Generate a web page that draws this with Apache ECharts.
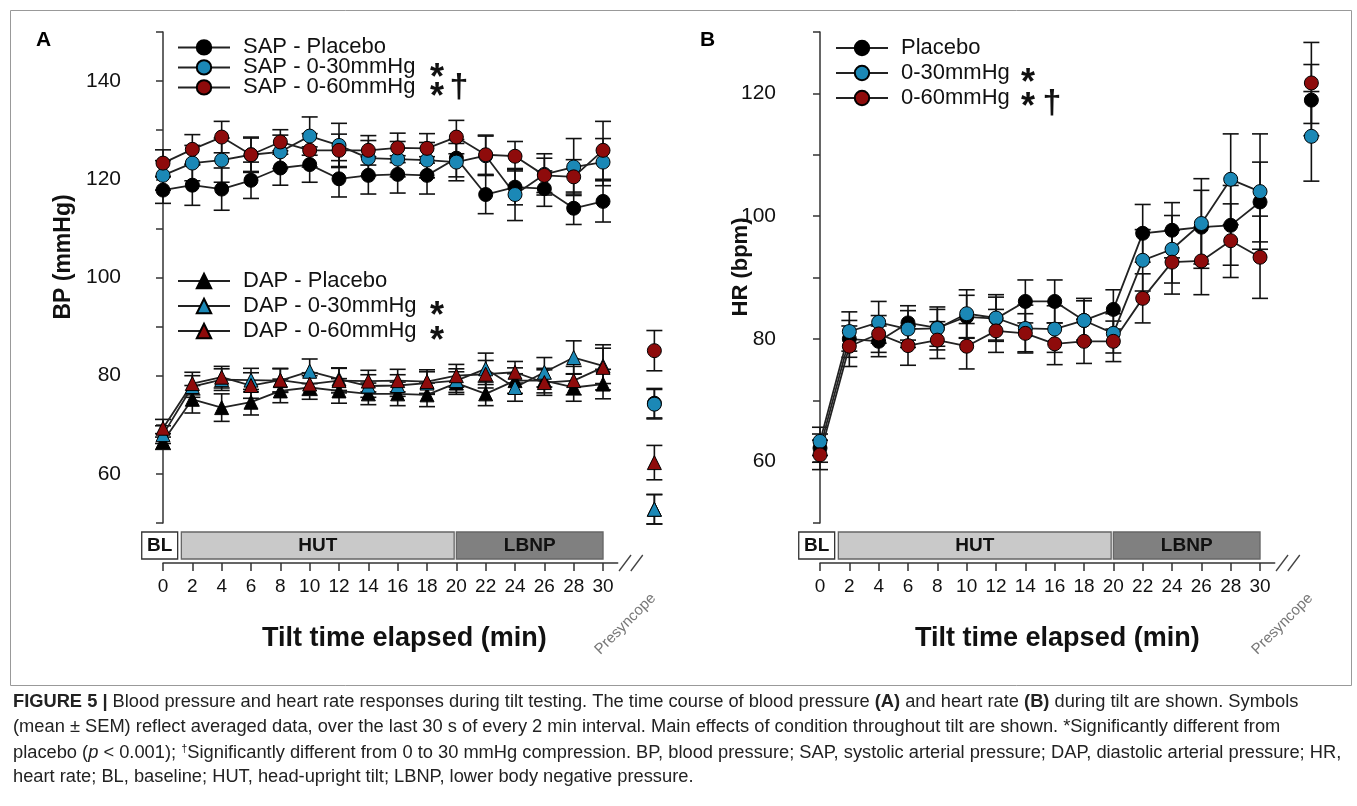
<!DOCTYPE html>
<html><head><meta charset="utf-8">
<script src="https://cdn.jsdelivr.net/npm/echarts@6/dist/echarts.min.js"></script>
<style>html,body{margin:0;padding:0;background:#fff}#c{width:1357px;height:806px}</style>
</head><body><div id="c"></div>
<script>
// ---------- DATA ----------
const times = [0,2,4,6,8,10,12,14,16,18,20,22,24,26,28,30];
const presyncopeX = 33.5;
const tickLabels = times;

const sapNames = ['SAP - Placebo','SAP - 0-30mmHg','SAP - 0-60mmHg'];
const dapNames = ['DAP - Placebo','DAP - 0-30mmHg','DAP - 0-60mmHg'];
const hrNames  = ['Placebo','0-30mmHg','0-60mmHg'];

const sapPlacebo = [117.8,118.8,118.0,119.8,122.3,123.0,120.1,120.8,121.0,120.8,124.3,116.9,118.4,118.1,114.1,115.5];
const sap30      = [120.8,123.3,123.9,125.0,125.6,128.8,126.9,124.3,124.1,123.9,123.5,124.8,116.9,121.0,122.5,123.5];
const sap60      = [123.3,126.1,128.6,125.0,127.6,125.9,125.9,125.9,126.4,126.3,128.6,125.0,124.7,120.8,120.5,125.9];
const sapPlaceboErr = [2.7,4.1,4.3,3.7,3.5,3.6,3.7,3.8,3.8,3.8,3.8,3.9,3.6,3.6,3.3,4.2];
const sap30Err      = [3.0,3.6,4.5,3.6,3.4,3.9,4.5,3.6,3.6,3.6,3.8,4.0,5.3,4.2,5.8,4.8];
const sap60Err      = [2.7,3.0,3.2,3.4,2.5,3.4,3.3,3.0,3.0,3.0,3.4,4.0,3.0,3.5,3.5,5.9];

const dapPlacebo = [66.6,75.2,73.5,74.6,76.9,77.6,76.9,76.3,76.3,76.1,78.5,76.3,79.0,79.0,77.6,78.3];
const dap30      = [68.0,77.8,79.2,79.1,79.0,80.9,79.3,77.9,78.0,78.5,79.0,81.4,77.6,80.7,83.7,82.0];
const dap60      = [69.3,78.4,79.7,78.0,79.1,78.3,79.0,78.9,79.0,78.8,80.0,80.3,80.7,78.6,79.0,81.7];
const dapPlaceboErr = [1.6,2.8,2.8,2.6,2.4,2.4,2.5,2.2,2.4,2.4,2.3,2.4,2.6,2.5,2.8,3.0];
const dap30Err      = [1.8,2.2,2.2,2.4,2.4,2.5,2.3,2.3,2.2,2.3,2.4,3.2,2.8,3.0,3.4,3.6];
const dap60Err      = [1.8,2.3,2.2,2.6,2.4,2.3,2.5,2.2,2.3,2.4,2.3,2.8,2.2,2.6,2.9,4.6];

// presyncope (order: placebo, 0-30, 0-60)
const sapPre = [74.4, 74.2, 85.1];
const sapPreErr = [3.0, 3.0, 4.1];
const dapPre = [52.8, 52.8, 62.3];
const dapPreErr = [3.0, 3.0, 3.5];

const hrPlacebo = [62.2,80.0,79.6,82.6,81.8,83.6,83.3,86.1,86.1,83.0,84.8,97.2,97.7,98.2,98.5,102.3];
const hr30      = [63.3,81.2,82.7,81.6,81.7,84.1,83.4,81.7,81.6,83.0,80.9,92.8,94.6,98.8,106.0,104.0];
const hr60      = [61.1,78.8,80.8,78.9,79.8,78.8,81.3,80.9,79.2,79.6,79.6,86.6,92.5,92.7,96.0,93.3];
const hrPlaceboErr = [2.3,3.0,2.5,2.8,3.0,3.5,3.5,3.5,3.5,3.2,3.2,4.7,4.5,6.0,6.5,6.5];
const hr30Err      = [2.3,3.2,3.4,3.0,3.5,3.9,3.8,3.8,3.8,3.6,3.2,5.0,5.5,7.3,7.4,9.4];
const hr60Err      = [2.4,3.3,3.0,3.2,3.0,3.7,3.5,3.2,3.4,3.6,3.3,4.0,5.2,5.5,6.0,6.7];
const hrPre = [118.9, 113.0, 121.7];
const hrPreErr = [5.8, 7.3, 6.6];

// protocol phases
const phaseNames = ['BL','HUT','LBNP'];
const phaseStart = [-1.45, 1.25, 20.0];
const phaseEnd   = [1.0, 19.85, 30.0];
const breakMarks = [31.5, 32.3];

// ---------- STYLE ----------
const FONT = '"Liberation Sans", Arial, sans-serif';
const colors = ['#000000', '#1b88b6', '#8e0b0b'];
const phaseFill = ['#ffffff', '#c9c9c9', '#808080'];
const AXIS = '#333';

function pairs(xs, ys){ return xs.map((x,i)=>[x, ys[i]]); }
function triples(xs, ys, es){ return xs.map((x,i)=>[x, ys[i], es[i]]); }

function errRender(params, api){
  const x = api.value(0), m = api.value(1), e = api.value(2);
  const t = api.coord([x, m+e]), b = api.coord([x, m-e]);
  const hw = 8, st = {stroke:'#111', lineWidth:1.6};
  return {type:'group', children:[
    {type:'line', shape:{x1:t[0],y1:t[1],x2:b[0],y2:b[1]}, style:st},
    {type:'line', shape:{x1:t[0]-hw,y1:t[1],x2:t[0]+hw,y2:t[1]}, style:st},
    {type:'line', shape:{x1:b[0]-hw,y1:b[1],x2:b[0]+hw,y2:b[1]}, style:st}
  ]};
}

function makeGroup(gi, names, symbol, vals, errs, pre, preErr){
  const out = [];
  for (let k=0;k<3;k++){
    out.push({type:'custom', xAxisIndex:gi, yAxisIndex:gi, renderItem:errRender, clip:false, z:2, silent:true,
      encode:{x:0,y:1}, data: triples(times, vals[k], errs[k])});
    out.push({type:'custom', xAxisIndex:gi, yAxisIndex:gi, renderItem:errRender, clip:false, z:2, silent:true,
      encode:{x:0,y:1}, data: [[presyncopeX, pre[k], preErr[k]]]});
  }
  for (let k=0;k<3;k++){
    out.push({type:'line', name:names[k], xAxisIndex:gi, yAxisIndex:gi, clip:false, z:3,
      symbol:symbol, symbolSize:14, showAllSymbol:true,
      itemStyle:{color:colors[k], borderColor:'#000', borderWidth:1, opacity:1},
      lineStyle:{color:'#222', width:1.8},
      data: pairs(times, vals[k])});
    out.push({type:'scatter', xAxisIndex:gi, yAxisIndex:gi, clip:false, z:3,
      symbol:symbol, symbolSize:14,
      itemStyle:{color:colors[k], borderColor:'#000', borderWidth:1, opacity:1},
      data:[[presyncopeX, pre[k]]]});
  }
  return out;
}

function phaseSeries(gi, ymin){
  return {type:'custom', xAxisIndex:gi, yAxisIndex:gi, clip:false, silent:true, z:1,
    encode:{x:[0,1]},
    data: phaseNames.map((n,i)=>[phaseStart[i], phaseEnd[i], i]),
    renderItem(params, api){
      const s = api.coord([api.value(0), ymin]), e = api.coord([api.value(1), ymin]);
      const idx = api.value(2);
      const base = params.coordSys.y + params.coordSys.height;
      return {type:'group', children:[
        {type:'rect', shape:{x:s[0], y:base+9, width:e[0]-s[0], height:27},
          style:{fill:phaseFill[idx], stroke:idx===0?'#333':'#666', lineWidth:1.3}},
        {type:'text', style:{x:(s[0]+e[0])/2, y:base+22.5, text:phaseNames[idx], align:'center', verticalAlign:'middle',
          font:'bold 19px ' + FONT, fill:'#111'}}
      ]};
    }};
}

function breakSeries(gi, ymin){
  return {type:'custom', xAxisIndex:gi, yAxisIndex:gi, clip:false, silent:true, z:1,
    encode:{x:0}, data: breakMarks.map(v=>[v]),
    renderItem(params, api){
      const p = api.coord([api.value(0), ymin]);
      const y = params.coordSys.y + params.coordSys.height + 40;
      return {type:'line', shape:{x1:p[0]-6, y1:y+8, x2:p[0]+6, y2:y-8}, style:{stroke:'#444', lineWidth:1.3}};
    }};
}

function presyncopeLabel(gi, ymin){
  return {type:'custom', xAxisIndex:gi, yAxisIndex:gi, clip:false, silent:true, z:1,
    encode:{x:0}, data:[[presyncopeX]],
    renderItem(params, api){
      const p = api.coord([api.value(0), ymin]);
      const y = params.coordSys.y + params.coordSys.height + 40;
      return {type:'text', x:p[0]-1, y:y+33, rotation:Math.PI/4,
        style:{x:0, y:0, text:'Presyncope', align:'right', verticalAlign:'middle', font:'15px ' + FONT, fill:'#777'}};
    }};
}

function legendCfg(names, left, top, gap){
  return {data:names, left:left, top:top, orient:'vertical', itemWidth:52, itemHeight:18, itemGap:gap,
    selectedMode:false, padding:0,
    textStyle:{fontSize:22, fontFamily:FONT, color:'#111', lineHeight:18, padding:[0,0,0,8]}};
}

function xAxisCfg(gi, namePad){
  return {gridIndex:gi, type:'value', min:0, max:31, interval:2, offset:40,
    axisLine:{show:true, lineStyle:{color:AXIS, width:1.5}},
    axisTick:{show:true, length:8, customValues:tickLabels, lineStyle:{color:AXIS, width:1.5}},
    axisLabel:{customValues:tickLabels, fontSize:19, fontFamily:FONT, color:'#111', margin:14},
    splitLine:{show:false},
    name:'Tilt time elapsed (min)', nameLocation:'middle', nameGap:62, nameMoveOverlap:false,
    nameTextStyle:{fontSize:27, fontWeight:'bold', fontFamily:FONT, color:'#111', padding:[0,0,0,namePad]}};
}
function yAxisCfg(gi, min, max, offset, name, gap, namePad, nameSize){
  return {gridIndex:gi, type:'value', min:min, max:max, interval:10, offset:offset,
    axisLine:{show:true, lineStyle:{color:AXIS, width:1.5}},
    axisTick:{show:true, length:7, lineStyle:{color:AXIS, width:1.5}},
    axisLabel:{formatter:v => (v%20===0 && v>min && v<max) ? String(v) : '', fontSize:21, fontFamily:FONT, color:'#111', margin:16},
    splitLine:{show:false},
    name:name, nameLocation:'middle', nameRotate:90, nameGap:gap, nameMoveOverlap:false,
    nameTextStyle:{fontSize:nameSize, fontWeight:'bold', fontFamily:FONT, color:'#111', padding:[0,0,0,namePad]}};
}

const series = [].concat(
  makeGroup(0, sapNames, 'circle', [sapPlacebo, sap30, sap60], [sapPlaceboErr, sap30Err, sap60Err], sapPre, sapPreErr),
  makeGroup(0, dapNames, 'triangle', [dapPlacebo, dap30, dap60], [dapPlaceboErr, dap30Err, dap60Err], dapPre, dapPreErr),
  makeGroup(1, hrNames, 'circle', [hrPlacebo, hr30, hr60], [hrPlaceboErr, hr30Err, hr60Err], hrPre, hrPreErr),
  [phaseSeries(0, 50), phaseSeries(1, 50), breakSeries(0, 50), breakSeries(1, 50), presyncopeLabel(0, 50), presyncopeLabel(1, 50)]
);

const captionLines = [
  '{b|FIGURE 5 |} Blood pressure and heart rate responses during tilt testing. The time course of blood pressure {b|(A)} and heart rate {b|(B)} during tilt are shown. Symbols',
  '(mean ± SEM) reflect averaged data, over the last 30 s of every 2 min interval. Main effects of condition throughout tilt are shown. *Significantly different from',
  'placebo ({i|p} < 0.001); {u|†}Significantly different from 0 to 30 mmHg compression. BP, blood pressure; SAP, systolic arterial pressure; DAP, diastolic arterial pressure; HR,',
  'heart rate; BL, baseline; HUT, head-upright tilt; LBNP, lower body negative pressure.'
];
const CAP_SIZE = 18.3;
const capRich = {
  b:{fontWeight:'bold', fontSize:CAP_SIZE, fontFamily:FONT, fill:'#222'},
  i:{fontStyle:'italic', fontSize:CAP_SIZE, fontFamily:FONT, fill:'#222'},
  u:{fontSize:11, fontFamily:FONT, fill:'#222', padding:[0,0,9,0]}
};

// significance marks drawn after legend entries
const sigMarks = [
  {t:'*', x:437, y:79}, {t:'*', x:437, y:98}, {t:'†', x:459, y:88},
  {t:'*', x:437, y:317}, {t:'*', x:437, y:342},
  {t:'*', x:1028, y:84}, {t:'*', x:1028, y:108}, {t:'†', x:1052, y:104}
];

const graphic = [
  {type:'rect', left:8, top:8, shape:{width:1341, height:675}, style:{fill:'none', stroke:'#999', lineWidth:1}},
  {type:'text', left:36, top:30, style:{text:'A', font:'bold 21px ' + FONT, fill:'#000'}},
  {type:'text', left:700, top:30, style:{text:'B', font:'bold 21px ' + FONT, fill:'#000'}}
].concat(captionLines.map((t,i)=>({type:'text', left:13, top:693 + i*25,
  style:{text:t, font:CAP_SIZE + 'px ' + FONT, fill:'#222', rich:capRich}})))
 .concat(sigMarks.map(m=>({type:'text', x:m.x, y:m.y,
  style:{text:m.t, font:(m.t==='*' ? 'bold 36px ' : 'bold 34px ') + FONT, fill:'#111', align:'center', verticalAlign:'middle'}})));

const option = {
  animation:false,
  textStyle:{fontFamily:FONT},
  grid:[
    {left:163, top:32, width:454.7, height:491},
    {left:820, top:32, width:454.7, height:491}
  ],
  xAxis:[xAxisCfg(0, 28), xAxisCfg(1, 20)],
  yAxis:[yAxisCfg(0, 50, 150, 26, 'BP (mmHg)', 62, 41, 23), yAxisCfg(1, 50, 130, 28, 'HR (bpm)', 40, 21, 22)],
  legend:[
    legendCfg(sapNames, 177, 36.4, -2),
    legendCfg(dapNames, 177, 270, 3),
    legendCfg(hrNames, 835, 37, 3)
  ],
  graphic: graphic,
  series: series
};
const chart = echarts.init(document.getElementById('c'), null, {renderer:'canvas'});
chart.setOption(option);
</script>
</body></html>
